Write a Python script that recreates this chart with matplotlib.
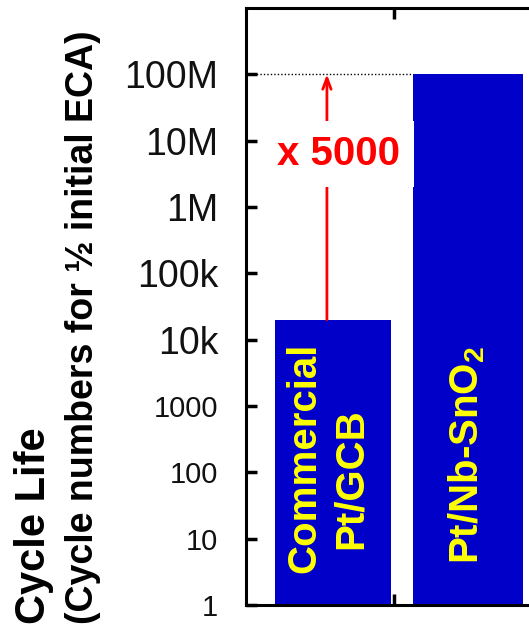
import numpy as np
import matplotlib
matplotlib.use('Agg')
import matplotlib.pyplot as plt

plt.rcParams['font.family'] = ['Liberation Sans', 'DejaVu Sans']
plt.rcParams['mathtext.fontset'] = 'custom'
plt.rcParams['mathtext.rm'] = 'Liberation Sans'
plt.rcParams['mathtext.bf'] = 'Liberation Sans:bold'
plt.rcParams['mathtext.default'] = 'bf'

# data
catPos     = [0.0, 1.0]
catValues  = [2.0e4, 1.0e8]
barWidths  = [0.86, 0.81]
tickValues = [1, 10, 100, 1000, 1e4, 1e5, 1e6, 1e7, 1e8]
tickLabels = ['1', '10', '100', '1000', '10k', '100k', '1M', '10M', '100M']
ratioText  = 'x 5000'

barColor  = '#0000c8'
textColor = '#ffff00'

fig = plt.figure(figsize = (5.29, 6.26), dpi = 100)
ax = fig.add_axes([0.465, 0.0335, 0.586, 0.954]) # left, bottom, width, height

ax.bar(catPos, catValues, width = barWidths, color = barColor, zorder = 2)
ax.set_yscale('log')
ax.set_ylim(1, 1e9)
ax.set_xlim(-0.644, 1.65)

# dotted reference line at the top of the second bar
lineEnd = catPos[1] - barWidths[1] / 2
ax.hlines(catValues[1], -0.644, lineEnd, colors = 'black', linestyles = (0, (1, 1.5)), lw = 1.0, zorder = 3)

# arrow showing the improvement
arrowX = catPos[0] - 0.045
ax.annotate('', xy = (arrowX, catValues[1]), xytext = (arrowX, catValues[0]),
            arrowprops = dict(arrowstyle = '->,head_length=0.8,head_width=0.3',
                              color = '#ff0000', lw = 2.0, shrinkA = 0, shrinkB = 0),
            zorder = 4)
ax.text(catPos[0] + 0.04, 6.3e6, ratioText, color = '#ff0000', fontsize = 29,
        fontweight = 'bold', ha = 'center', va = 'center', zorder = 5,
        bbox = dict(facecolor = 'white', edgecolor = 'none', boxstyle = 'square,pad=0.35'))

# labels inside the bars
ax.text(catPos[0] - 0.215, 165, 'Commercial', rotation = 90, color = textColor,
        fontsize = 29, fontweight = 'bold', ha = 'center', va = 'center', zorder = 5)
ax.text(catPos[0] + 0.133, 81, 'Pt/GCB', rotation = 90, color = textColor,
        fontsize = 29, fontweight = 'bold', ha = 'center', va = 'center', zorder = 5)
ax.text(catPos[1] - 0.01, 180, r'Pt/Nb-SnO$_2$', rotation = 90, color = textColor,
        fontsize = 29, fontweight = 'bold', ha = 'center', va = 'center', zorder = 5)

# axes styling
ax.set_yticks(tickValues)
ax.set_yticklabels(tickLabels)
ax.yaxis.set_minor_locator(matplotlib.ticker.NullLocator())
for lab, v in zip(ax.get_yticklabels(), tickValues):
    lab.set_fontsize(21 if v < 1e4 else 27)
    lab.set_color('#111111')
ax.tick_params(axis = 'y', direction = 'in', length = 8, width = 2.5, pad = 20)
ax.set_xticks([0.45])
ax.set_xticklabels([''])
ax.tick_params(axis = 'x', direction = 'in', length = 8, width = 2.5, top = True)
for s in ax.spines.values():
    s.set_linewidth(2.2)

fig.text(34 / 529, 0.003, 'Cycle Life', rotation = 90, fontsize = 30,
         fontweight = 'bold', ha = 'center', va = 'bottom')
fig.text(83.5 / 529, 0.003, '(Cycle numbers for \u00bd initial ECA)', rotation = 90,
         fontsize = 27, fontweight = 'bold', ha = 'center', va = 'bottom')

fig.savefig('out.png', dpi = 100)
